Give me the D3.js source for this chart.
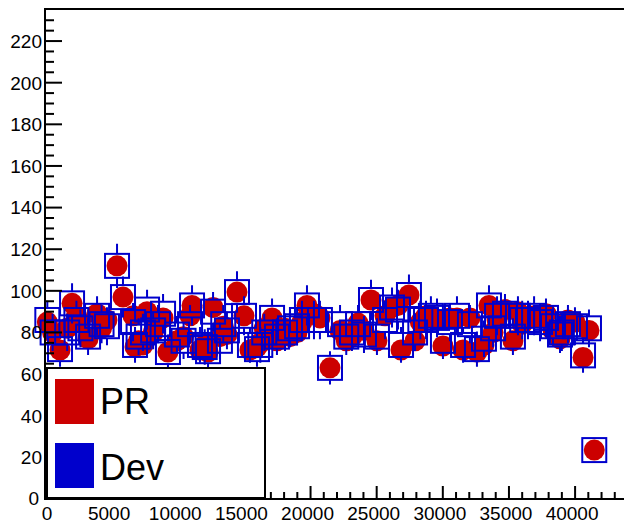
<!DOCTYPE html>
<html>
<head>
<meta charset="utf-8">
<script src="https://cdn.jsdelivr.net/npm/d3@7.9.0/dist/d3.min.js"></script>
<style>
  body { margin: 0; background: #fff; }
  svg { display: block; font-family: "Liberation Sans", Arial, sans-serif; }
</style>
</head>
<body>
<svg id="chart" width="624" height="523"></svg>
<script>
// x positions of the bins
const xVals = [100, 500, 1060, 1600, 1970, 2300, 2600, 3180, 3860, 4200, 4610, 5370, 5820, 6580,
  6730, 7000, 7330, 7640, 8100, 8470, 8850, 9220, 9900, 10400, 10890, 11040, 11640, 12000,
  12250, 12630, 13150, 13400, 13680, 14440, 14970, 15420, 15950, 16200, 16500, 17090, 17460, 18070,
  18450, 18980, 19350, 19730, 20260, 20710, 21470, 22230, 22700, 23130, 23590, 24040, 24570, 25020,
  25630, 26160, 26610, 26840, 27440, 27900, 28300, 28730, 29100, 29560, 30010, 30540, 31070, 31530,
  32050, 32580, 33110, 33490, 33800, 34100, 34700, 35300, 35680, 36000, 36440, 36900, 37350, 37800,
  38330, 38860, 39000, 39460, 39990, 40600, 41050, 41450];

// PR series (red circles)
const prVals = [85, 80, 71.6, 82, 94, 88, 85, 77, 89, 82, 86, 112, 97, 88,
  73, 76, 74, 90, 80, 86, 87, 70.6, 76, 78, 88, 93, 71.6, 74,
  70.6, 92, 78, 83, 79, 99.4, 88, 71.6, 73, 75, 82, 87, 76, 82,
  78, 80, 85, 93, 89, 87, 63, 81, 76, 78, 84.5, 81, 95.6, 76,
  88, 92, 93, 71.6, 98, 76, 85, 88, 88, 86, 73.5, 87, 87, 71.6,
  87, 70.6, 74, 93, 80, 86, 91, 76, 90, 84, 87, 88, 87, 89,
  81, 77, 80, 86, 85, 68, 81, 23.5];

// Dev series (blue squares)
const devVals = [86, 80, 72, 80, 94, 86, 82, 78, 88, 84, 83, 112, 97, 85,
  74, 78, 80, 91, 81, 84, 89, 70.6, 79, 76, 84, 93, 74, 73,
  71, 90, 76, 84, 81, 99.4, 88, 74, 72, 74, 80, 87, 78, 80,
  82, 83, 86, 93, 86, 86, 63, 84, 78, 80, 84, 79, 95.6, 78,
  86, 92, 91, 74, 98, 80, 86, 86, 88, 87, 76, 85, 88, 74,
  84, 72, 77, 93, 82, 88, 89, 78, 88, 86, 86, 88, 85, 87,
  83, 79, 80, 84, 83, 69, 82, 23.5];

const yTicks = [0, 20, 40, 60, 80, 100, 120, 140, 160, 180, 200, 220];
const xTicks = [0, 5000, 10000, 15000, 20000, 25000, 30000, 35000, 40000];
const legendItems = ['PR', 'Dev'];
const colors = { PR: '#cc0000', Dev: '#0000cc' };

const svg = d3.select('#chart');

const x = d3.scaleLinear().domain([0, 44000]).range([46, 628]);
const y = d3.scaleLinear().domain([0, 235.4]).range([499, 9]);

const frameL = 45, frameT = 9, frameB = 499, frameR = 628;

// PR circles
svg.append('g')
  .selectAll('circle')
  .data(xVals.map((d, i) => ({ x: d, v: prVals[i] })))
  .join('circle')
  .attr('cx', d => x(d.x))
  .attr('cy', d => y(d.v))
  .attr('r', 10.5)
  .attr('fill', colors.PR);

// Dev squares + error bars (gap inside the marker)
const half = 12;
const dev = svg.append('g')
  .attr('stroke', colors.Dev)
  .attr('stroke-width', 2)
  .attr('fill', 'none');

const pts = xVals.map((d, i) => ({ x: d, v: devVals[i], e: Math.sqrt(devVals[i]) }));

dev.selectAll('path.err')
  .data(pts)
  .join('path')
  .attr('class', 'err')
  .attr('d', d => {
    const cx = x(d.x), cy = y(d.v);
    const hi = y(d.v + d.e), lo = y(d.v - d.e);
    let p = '';
    if (cy - hi > half) p += `M${cx},${hi}V${cy - half}`;
    if (lo - cy > half) p += `M${cx},${cy + half}V${lo}`;
    return p;
  });

dev.selectAll('rect')
  .data(pts)
  .join('rect')
  .attr('x', d => x(d.x) - half)
  .attr('y', d => y(d.v) - half)
  .attr('width', half * 2)
  .attr('height', half * 2);

// frame
const axes = svg.append('g').attr('stroke', '#000').attr('stroke-width', 2);
axes.append('path')
  .attr('fill', 'none')
  .attr('d', `M${frameR},${frameT}H${frameL}V${frameB}H${frameR}`);

// y ticks
const yMinor = d3.range(0, 235, 5);
axes.selectAll('line.ymin')
  .data(yMinor)
  .join('line')
  .attr('x1', frameL).attr('x2', d => frameL + (d % 20 === 0 ? 17 : 9))
  .attr('y1', d => y(d)).attr('y2', d => y(d));

// x ticks
const xMinor = d3.range(0, 44001, 1000);
axes.selectAll('line.xmin')
  .data(xMinor)
  .join('line')
  .attr('x1', d => x(d)).attr('x2', d => x(d))
  .attr('y1', frameB).attr('y2', d => frameB - (d % 5000 === 0 ? 13 : 7));

svg.append('g')
  .selectAll('text')
  .data(yTicks)
  .join('text')
  .attr('x', d => d === 0 ? 39 : 42)
  .attr('y', d => d === 0 ? y(d) - 1 : y(d))
  .attr('dy', '0.36em')
  .attr('text-anchor', 'end')
  .attr('font-size', 19)
  .text(d => d);

svg.append('g')
  .selectAll('text')
  .data(xTicks)
  .join('text')
  .attr('x', d => d === 0 ? x(d) + 1 : x(d) - 3)
  .attr('y', 520)
  .attr('text-anchor', 'middle')
  .attr('font-size', 19)
  .text(d => d);

// legend
const lg = svg.append('g');
lg.append('rect')
  .attr('x', 47).attr('y', 368).attr('width', 218).attr('height', 130)
  .attr('fill', '#fff').attr('stroke', '#000').attr('stroke-width', 2);

legendItems.forEach((name, i) => {
  lg.append('rect')
    .attr('x', 55).attr('y', 379 + i * 64)
    .attr('width', 39).attr('height', 45)
    .attr('fill', colors[name]);
  lg.append('text')
    .attr('x', 100).attr('y', 414 + i * 66)
    .attr('font-size', 36)
    .text(name);
});
</script>
</body>
</html>
